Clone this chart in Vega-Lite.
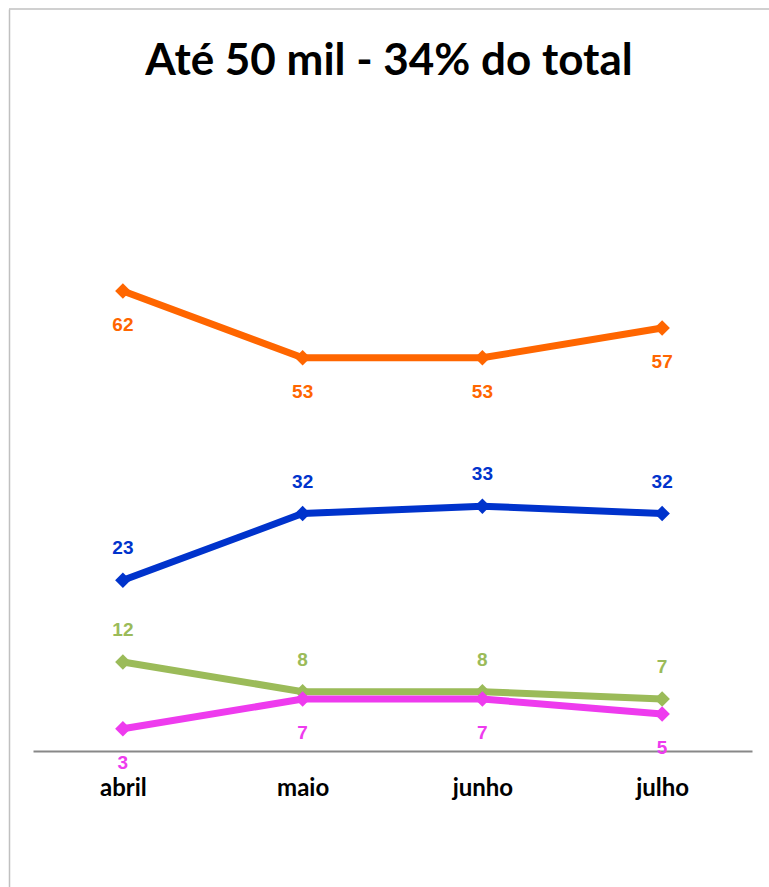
{
  "$schema": "https://vega.github.io/schema/vega-lite/v6.json",
  "width": 760,
  "height": 878,
  "autosize": {"type": "none"},
  "padding": {"left": 9, "top": 9, "right": 0, "bottom": 0},
  "background": "white",
  "config": {"view": {"stroke": null}},
  "title": {
    "text": "Até 50 mil - 34% do total",
    "font": "Lato",
    "fontSize": 44,
    "fontWeight": "bold",
    "color": "black",
    "anchor": "middle",
    "offset": -76
  },
  "data": {
    "values": [
      {"mes": "abril", "serie": "Série 1", "valor": 62},
      {"mes": "maio", "serie": "Série 1", "valor": 53},
      {"mes": "junho", "serie": "Série 1", "valor": 53},
      {"mes": "julho", "serie": "Série 1", "valor": 57},
      {"mes": "abril", "serie": "Série 2", "valor": 23},
      {"mes": "maio", "serie": "Série 2", "valor": 32},
      {"mes": "junho", "serie": "Série 2", "valor": 33},
      {"mes": "julho", "serie": "Série 2", "valor": 32},
      {"mes": "abril", "serie": "Série 3", "valor": 12},
      {"mes": "maio", "serie": "Série 3", "valor": 8},
      {"mes": "junho", "serie": "Série 3", "valor": 8},
      {"mes": "julho", "serie": "Série 3", "valor": 7},
      {"mes": "abril", "serie": "Série 4", "valor": 3},
      {"mes": "maio", "serie": "Série 4", "valor": 7},
      {"mes": "junho", "serie": "Série 4", "valor": 7},
      {"mes": "julho", "serie": "Série 4", "valor": 5}
    ]
  },
  "layer": [
    {
      "data": {"values": [{}]},
      "mark": {"type": "rule", "color": "#c0c0c0", "strokeWidth": 1.5},
      "encoding": {"y": {"datum": 100, "type": "quantitative"}}
    },
    {
      "mark": {"type": "line", "strokeWidth": 7, "point": {"shape": "diamond", "size": 240, "filled": true, "opacity": 1}},
      "encoding": {
        "x": {
          "field": "mes", "type": "ordinal", "sort": ["abril", "maio", "junho", "julho"],
          "scale": {"type": "point", "range": [24, 743], "padding": 0.5},
          "axis": {"orient": "bottom", "offset": -136, "domain": true, "domainColor": "#888888", "domainWidth": 2, "ticks": false, "grid": false, "labelFont": "Lato", "labelFontSize": 24, "labelFontWeight": "bold", "labelColor": "black", "labelPadding": 25, "labelAngle": 0, "title": null}
        },
        "y": {
          "field": "valor", "type": "quantitative",
          "scale": {"domain": [-18.33, 100], "nice": false, "zero": false},
          "axis": {"domain": true, "domainColor": "#c0c0c0", "domainWidth": 1.5, "labels": false, "ticks": false, "grid": false, "title": null}
        },
        "color": {
          "field": "serie", "type": "nominal",
          "scale": {"domain": ["Série 1", "Série 2", "Série 3", "Série 4"], "range": ["#FF6600", "#0033CC", "#9BBB59", "#EE3BEE"]},
          "legend": null
        }
      }
    },
    {
      "transform": [{"filter": {"field": "serie", "oneOf": ["Série 1", "Série 4"]}}],
      "mark": {"type": "text", "dy": 34, "font": "Liberation Sans", "fontSize": 19, "fontWeight": "bold", "baseline": "middle", "align": "center"},
      "encoding": {
        "x": {"field": "mes", "type": "ordinal", "sort": ["abril", "maio", "junho", "julho"]},
        "y": {"field": "valor", "type": "quantitative"},
        "text": {"field": "valor", "type": "quantitative"},
        "color": {"field": "serie", "type": "nominal", "legend": null}
      }
    },
    {
      "transform": [{"filter": {"field": "serie", "oneOf": ["Série 2", "Série 3"]}}],
      "mark": {"type": "text", "dy": -32, "font": "Liberation Sans", "fontSize": 19, "fontWeight": "bold", "baseline": "middle", "align": "center"},
      "encoding": {
        "x": {"field": "mes", "type": "ordinal", "sort": ["abril", "maio", "junho", "julho"]},
        "y": {"field": "valor", "type": "quantitative"},
        "text": {"field": "valor", "type": "quantitative"},
        "color": {"field": "serie", "type": "nominal", "legend": null}
      }
    }
  ]
}
